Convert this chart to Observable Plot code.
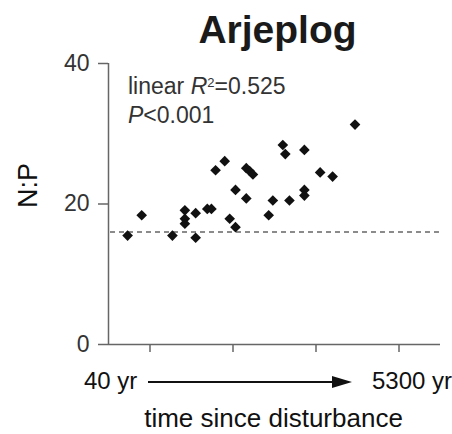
<!DOCTYPE html>
<html><head><meta charset="utf-8">
<script src="https://cdn.jsdelivr.net/npm/d3@7"></script>
<script src="https://cdn.jsdelivr.net/npm/@observablehq/plot@0.6"></script>
<style>
body{margin:0;background:#fff;font-family:"Liberation Sans",Arial,Helvetica,sans-serif;}
#wrap{position:relative;width:452px;height:434px;overflow:hidden;background:#fff;}
#chart{position:absolute;left:0;top:0;}
.ov{position:absolute;white-space:nowrap;line-height:1;}
#title{left:0;width:452px;top:10px;text-align:center;font-weight:bold;font-size:39px;color:#1a1a1a;padding-left:103px;box-sizing:border-box;}
#stats1{left:128px;top:75px;font-size:23px;color:#333;}
#stats2{left:128px;top:104px;font-size:23px;color:#333;}
#lab40{left:84px;top:369px;font-size:24px;color:#111;}
#lab5300{left:372px;top:369px;font-size:24px;color:#111;}
#arrowline{position:absolute;left:148px;top:381px;width:186px;height:2px;background:#111;}
#arrowhead{position:absolute;left:332px;top:376px;width:0;height:0;border-top:6px solid transparent;border-bottom:6px solid transparent;border-left:20px solid #111;}
#xlabel{left:0;width:452px;top:405px;text-align:center;font-size:26px;color:#111;padding-left:95px;box-sizing:border-box;}
</style></head><body>
<div id="wrap">
  <div id="chart"></div>
  <div id="title" class="ov"></div>
  <div id="stats1" class="ov"></div>
  <div id="stats2" class="ov"></div>
  <div id="lab40" class="ov"></div>
  <div id="arrowline"></div><div id="arrowhead"></div>
  <div id="lab5300" class="ov"></div>
  <div id="xlabel" class="ov"></div>
</div>
<script>
// Data (x: position along time-since-disturbance axis, tick units; y: N:P ratio)
const disturbanceTime = [0.73,0.90,1.27,1.42,1.42,1.42,1.55,1.55,1.69,1.74,1.79,1.90,1.96,2.03,2.03,2.16,2.16,2.20,2.24,2.43,2.48,2.60,2.63,2.68,2.86,2.86,2.86,3.05,3.20,3.47];
const npRatio = [15.5,18.4,15.5,19.1,17.9,17.2,18.7,15.2,19.3,19.3,24.8,26.1,17.9,16.7,22.0,20.8,25.1,24.7,24.2,18.4,20.5,28.4,27.1,20.5,27.7,22.0,21.2,24.5,23.9,31.3];
const threshold = [16];
const yTicks = [0, 20, 40];
const xTicks = [1, 2, 3, 4];
const xDomain = [0.5, 4.5];
const yDomain = [0, 40];
const titleText = "Arjeplog";
const yLabel = "N:P";
const startLabel = "40 yr";
const endLabel = "5300 yr";
const xLabel = "time since disturbance";
const r2Text = "0.525";
const pText = "0.001";

const data = disturbanceTime.map((t, i) => ({t, np: npRatio[i]}));
const font = '"Liberation Sans", Arial, Helvetica, sans-serif';

const chart = Plot.plot({
  width: 452, height: 434,
  marginTop: 63, marginBottom: 90, marginLeft: 108, marginRight: 12,
  style: {fontFamily: font, background: "transparent", color: "#333"},
  x: {domain: xDomain, axis: null},
  y: {domain: yDomain, axis: null},
  marks: [
    Plot.ruleY(threshold, {stroke: "#666", strokeWidth: 1.5, strokeDasharray: "5,4", strokeDashoffset: -2}),
    Plot.axisY(yTicks, {tickSize: 10, tickPadding: 9, label: null, stroke: "#666", strokeWidth: 1.5, fill: "#333", fontSize: 23}),
    Plot.axisX(xTicks, {tickSize: 8, tickFormat: () => "", label: null, stroke: "#666", strokeWidth: 1.5}),
    Plot.ruleX([xDomain[0]], {stroke: "#666", strokeWidth: 1.5}),
    Plot.ruleY([yDomain[0]], {stroke: "#666", strokeWidth: 1.5}),
    Plot.dot(data, {x: "t", y: "np", symbol: "diamond2", r: 4.8, fill: "#111", stroke: "none"}),
    Plot.text([yLabel], {text: d => d, frameAnchor: "left", rotate: -90, dx: -80, dy: 4, fontSize: 27, fill: "#111"})
  ]
});
document.getElementById("chart").appendChild(chart);

document.getElementById("title").textContent = titleText;
document.getElementById("stats1").innerHTML = 'linear <i>R</i><span style="font-size:13px;vertical-align:7px">2</span>=' + r2Text;
document.getElementById("stats2").innerHTML = '<i>P</i>&lt;' + pText;
document.getElementById("lab40").textContent = startLabel;
document.getElementById("lab5300").textContent = endLabel;
document.getElementById("xlabel").textContent = xLabel;
</script>
</body></html>
